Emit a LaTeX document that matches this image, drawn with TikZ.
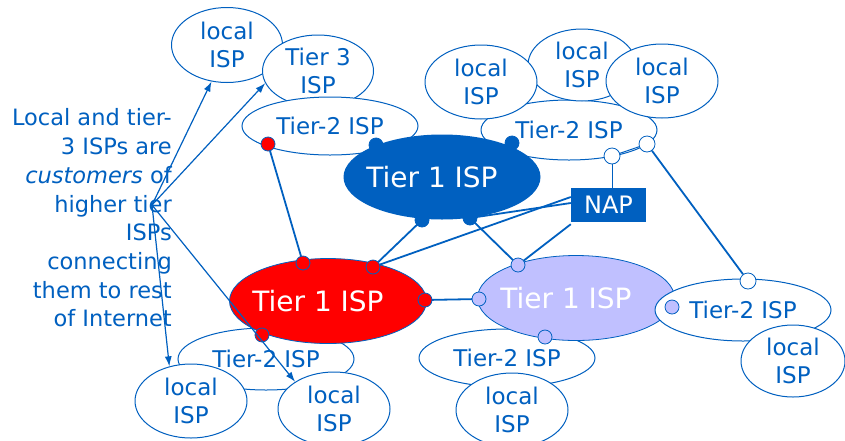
\documentclass[tikz,border=0pt]{standalone}
\usepackage{fontspec}
\setmainfont{DejaVu Sans}
\usetikzlibrary{shapes.geometric,arrows.meta,calc}
\definecolor{ispblue}{RGB}{0,96,192}
\definecolor{ispred}{RGB}{255,0,0}
\definecolor{isplav}{RGB}{192,192,255}
\pgfdeclarelayer{front}
\pgfdeclarelayer{top}
\pgfsetlayers{main,front,top}
\tikzset{
  isp/.style={ellipse, draw=ispblue, line width=1pt, fill=white, inner sep=0pt,
    text=ispblue, font=\fontsize{23}{28}\selectfont, align=center},
  tierone/.style={ellipse, inner sep=0pt, minimum width=197pt, minimum height=85pt},
  tonelabel/.style={text=white, font=\fontsize{28}{30}\selectfont, xshift=-10pt, inner sep=0pt},
  dotnode/.style={circle, inner sep=0pt, minimum size=14pt, line width=0.8pt, draw=ispblue},
  bdot/.style={dotnode, fill=ispblue},
  rdot/.style={dotnode, fill=ispred},
  ldot/.style={dotnode, fill=isplav},
  odot/.style={dotnode, fill=white, minimum size=16pt},
  conn/.style={draw=ispblue, line width=1.8pt},
  thinconn/.style={draw=ispblue, line width=1pt},
  arr/.style={draw=ispblue, line width=1.2pt, -{Latex[length=10pt,width=7pt]}},
  note/.style={text=ispblue, font=\fontsize{22.5}{28.7}\selectfont, align=right, inner sep=0pt}
}
\begin{document}
\begin{tikzpicture}[x=1pt,y=-1pt]
\useasboundingbox (0,0) rectangle (845,440);
\fill[white] (0,0) rectangle (845,440);

% ellipses, back to front
\node[isp, minimum width=111pt, minimum height=75pt] (ltl) at (227,45) {local\\ISP};
\node[isp, minimum width=111pt, minimum height=72pt] (t3) at (318,71) {Tier 3\\ISP};
\node[isp, minimum width=176pt, minimum height=58pt] (t2tl) at (330,126) {Tier-2 ISP};
\node[isp, minimum width=176pt, minimum height=60pt] (t2tr) at (569,130) {Tier-2 ISP};
\node[isp, minimum width=108pt, minimum height=72pt] (ltr2) at (582,65) {local\\ISP};
\node[isp, minimum width=112pt, minimum height=74pt] (ltr1) at (481,82) {local\\ISP};
\node[isp, minimum width=112pt, minimum height=74pt] (ltr3) at (662,81) {local\\ISP};
\node[tierone, fill=ispblue, label={[tonelabel]center:Tier 1 ISP}] (t1b) at (442,177) {};
\node[isp, minimum width=176pt, minimum height=62pt] (t2bl) at (266,359) {Tier-2 ISP};
\node[tierone, fill=ispred, draw=ispblue, line width=0.8pt, label={[tonelabel]center:Tier 1 ISP}] (t1r) at (328,301) {};
\node[isp, minimum width=112pt, minimum height=74pt] (lbl1) at (191,401) {local\\ISP};
\node[isp, minimum width=112pt, minimum height=74pt] (lbl2) at (334,409) {local\\ISP};
\node[isp, minimum width=176pt, minimum height=58pt] (t2bm) at (507,358) {Tier-2 ISP};
\node[tierone, fill=isplav, draw=ispblue, line width=0.8pt, label={[tonelabel]center:Tier 1 ISP}] (t1l) at (576,298) {};
\node[isp, minimum width=112pt, minimum height=74pt] (lbm) at (512,410) {local\\ISP};
\node[isp, minimum width=176pt, minimum height=62pt] (t2r) at (743,310) {Tier-2 ISP};
\node[isp, minimum width=104pt, minimum height=72pt] (lr) at (793,361) {local\\ISP};

\begin{pgfonlayer}{front}
\node[rdot] (d1) at (268,144) {};
\node[bdot] (d2) at (376,145) {};
\node[bdot] (d3) at (512,143) {};
\node[bdot] (d4) at (422,220) {};
\node[bdot] (d5) at (470,218) {};
\node[odot] (o1) at (612,156) {};
\node[odot] (o2) at (647,144) {};
\node[rdot] (r1) at (303,263) {};
\node[rdot] (r2) at (373,267) {};
\node[rdot] (r3) at (425,300) {};
\node[rdot] (r4) at (262,335) {};
\node[ldot] (l1) at (518,265) {};
\node[ldot] (l2) at (479,299) {};
\node[ldot] (l3) at (545,337) {};
\node[ldot] (l4) at (672,307) {};
\node[odot] (o3) at (748,281) {};
\node[rectangle, fill=ispblue, text=white, font=\fontsize{24}{26}\selectfont,
  minimum width=75pt, minimum height=34pt, inner sep=0pt] (nap) at (608.5,205) {NAP};
\end{pgfonlayer}

% connectors
\draw[conn] (d1.center) -- (r1.center);
\draw[conn] (d4.center) -- (r2.center);
\draw[conn] (d5.center) -- ($(nap.west)+(0,-2)$);
\draw[conn] (r2.center) -- ($(nap.west)+(0,-8)$);
\draw[conn] (l1.center) -- ($(nap.south west)+(0,2)$);
\draw[conn] (d5.center) -- (l1.center);
\draw[conn] (r3.center) -- (l2.center);
\draw[thinconn] (o1) -- (o2);
\draw[thinconn] (o1) -- (o1 |- nap.north);
\draw[conn] (o2) -- (o3);

% note and arrows
\coordinate (src) at (152,205);
\node[note, anchor=east] (txt) at (172,218) {Local and tier-\\3 ISPs are\\\textit{customers} of\\higher tier\\ISPs\\connecting\\them to rest\\of Internet};
\begin{pgfonlayer}{top}
\draw[arr] (src) -- (ltl.247);
\draw[arr] (src) -- (t3.193);
\draw[arr] (src) -- (lbl1.122);
\draw[arr] (src) -- (lbl2.145);
\end{pgfonlayer}
\end{tikzpicture}
\end{document}
